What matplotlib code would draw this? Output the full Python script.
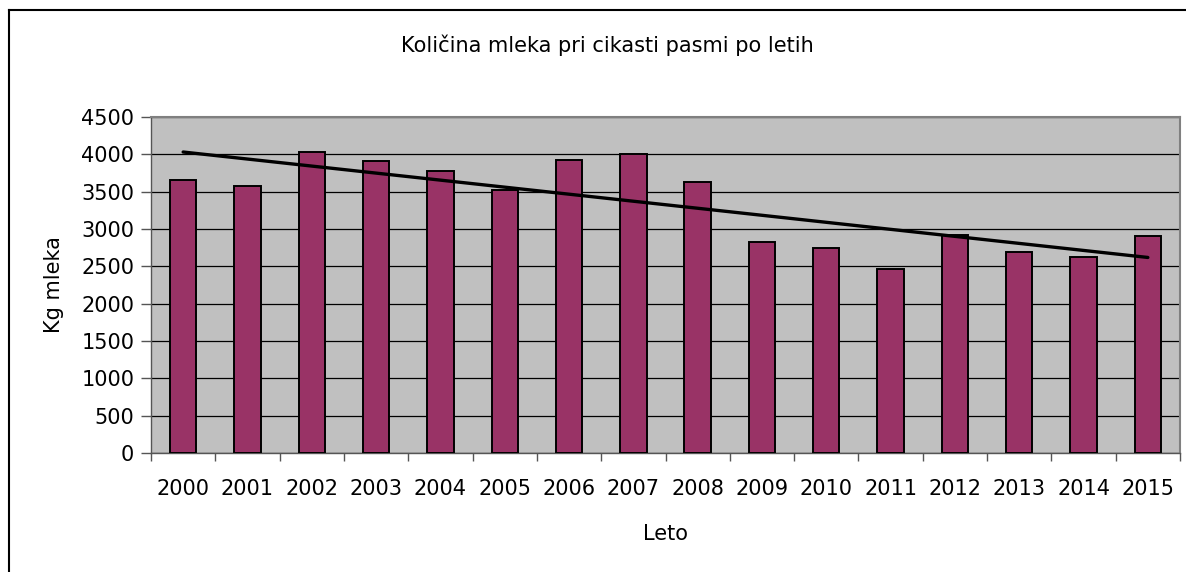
import numpy as np
import matplotlib
matplotlib.use("Agg")
import matplotlib.pyplot as plt
from matplotlib.lines import Line2D

years = ["2000", "2001", "2002", "2003", "2004", "2005", "2006", "2007",
         "2008", "2009", "2010", "2011", "2012", "2013", "2014", "2015"]
milk_kg = [3650, 3570, 4035, 3905, 3780, 3525, 3930, 4010,
           3625, 2825, 2750, 2460, 2920, 2695, 2620, 2900]
y_ticks = [0, 500, 1000, 1500, 2000, 2500, 3000, 3500, 4000, 4500]

title = "Količina mleka pri cikasti pasmi po letih"
x_label = "Leto"
y_label = "Kg mleka"

plt.rcParams['font.family'] = ['DejaVu Sans']
FS = 15

fig = plt.figure(figsize=(11.86, 5.72), dpi=100)
W, H = 1186, 572
ax = fig.add_axes([151 / W, 1 - 453 / H, (1180 - 151) / W, (453 - 117) / H])
ax.set_facecolor("#C0C0C0")

x = np.arange(len(years))
ax.bar(x, milk_kg, width=0.41, color="#993366", edgecolor="black",
       linewidth=1.4, zorder=3)

# linear trend line
coef = np.polyfit(x, milk_kg, 1)
ax.plot([x[0], x[-1]], np.polyval(coef, [x[0], x[-1]]), color="black",
        linewidth=2.4, zorder=4, solid_capstyle="round")

ax.set_xlim(-0.5, len(years) - 0.5)
ax.set_ylim(0, 4500)
ax.set_yticks(y_ticks)
ax.set_yticklabels([str(v) for v in y_ticks], fontsize=FS)
ax.yaxis.grid(True, color="black", linewidth=0.9, zorder=1)
ax.set_axisbelow(True)

ax.set_xticks(x)
ax.set_xticklabels(years, fontsize=FS)
ax.tick_params(axis="x", which="major", length=0, pad=19)
ax.set_xticks(np.arange(-0.5, len(years)), minor=True)
ax.tick_params(axis="x", which="minor", length=6, width=1, color="#555555",
               direction="out")
ax.tick_params(axis="y", which="major", length=7, width=1, color="#555555",
               direction="out", pad=5)

for s in ["top", "right"]:
    ax.spines[s].set_color("#808080")
    ax.spines[s].set_linewidth(1.5)
for s in ["left", "bottom"]:
    ax.spines[s].set_color("#555555")
    ax.spines[s].set_linewidth(1.0)

ax.set_ylabel(y_label, fontsize=FS)
ax.yaxis.set_label_coords(-0.085, 0.5)
ax.set_xlabel(x_label, fontsize=FS)
ax.xaxis.set_label_coords(0.5, -0.21)

fig.text(607 / W, 1 - 45 / H, title, fontsize=FS, ha="center", va="center")

# chart border (left and top edges visible)
fig.add_artist(Line2D([9 / W, 9 / W], [0, 1 - 10 / H], color="black",
                      linewidth=1.5, transform=fig.transFigure))
fig.add_artist(Line2D([9 / W, 1], [1 - 10 / H, 1 - 10 / H], color="black",
                      linewidth=1.5, transform=fig.transFigure))

fig.savefig("out.png", dpi=100)
